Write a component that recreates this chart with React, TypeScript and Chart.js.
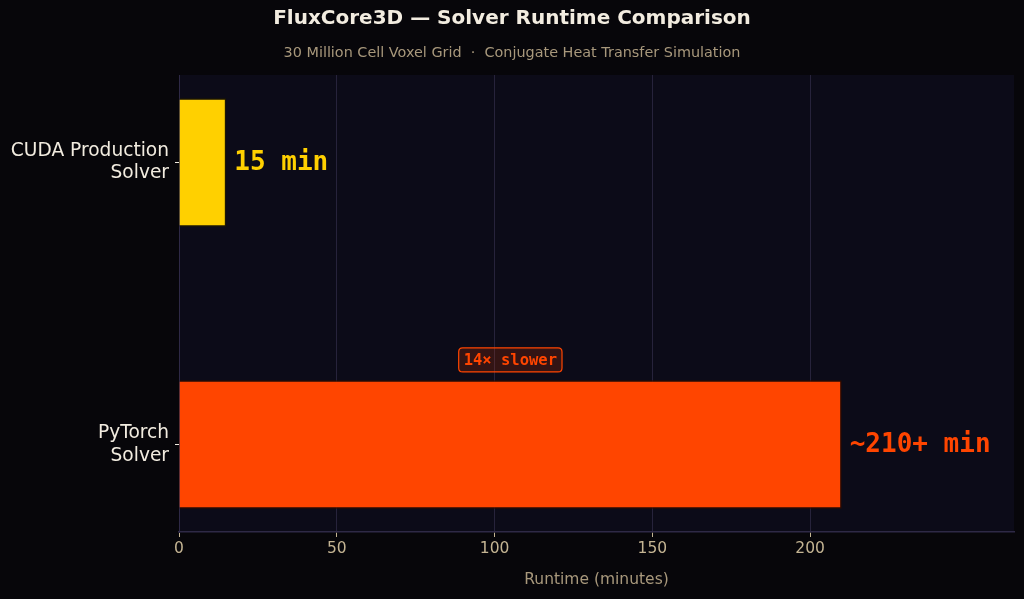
import React, { useEffect, useRef } from "react";
import { Chart, registerables } from "chart.js";

Chart.register(...registerables);

const categories: string[][] = [["CUDA Production", "Solver"], ["PyTorch", "Solver"]];
const runtimes: number[] = [15, 210];
const valueLabels: string[] = ["15 min", "~210+ min"];
const barColors: string[] = ["#FFD000", "#FF4500"];
const xTickValues: number[] = [0, 50, 100, 150, 200];
const xMax = 264.6;
const badgeText = "14× slower";

const TITLE = "FluxCore3D — Solver Runtime Comparison";
const SUBTITLE = "30 Million Cell Voxel Grid  ·  Conjugate Heat Transfer Simulation";
const X_TITLE = "Runtime (minutes)";

const PAGE_BG = "#07060a";
const PLOT_BG = "#0c0b18";
const GRID = "#27233b";
const CREAM = "#f2ece0";
const TAN = "#a8987c";
const TICK_TAN = "#c4b493";

function roundRect(ctx: CanvasRenderingContext2D, x: number, y: number, w: number, h: number, r: number) {
  ctx.beginPath();
  ctx.moveTo(x + r, y);
  ctx.lineTo(x + w - r, y);
  ctx.quadraticCurveTo(x + w, y, x + w, y + r);
  ctx.lineTo(x + w, y + h - r);
  ctx.quadraticCurveTo(x + w, y + h, x + w - r, y + h);
  ctx.lineTo(x + r, y + h);
  ctx.quadraticCurveTo(x, y + h, x, y + h - r);
  ctx.lineTo(x, y + r);
  ctx.quadraticCurveTo(x, y, x + r, y);
  ctx.closePath();
}

const decorPlugin = {
  id: "decor",
  beforeDraw(chart: any) {
    const { ctx, chartArea } = chart;
    ctx.save();
    ctx.fillStyle = PAGE_BG;
    ctx.fillRect(0, 0, chart.width, chart.height);
    ctx.fillStyle = PLOT_BG;
    ctx.fillRect(chartArea.left, chartArea.top, chartArea.right - chartArea.left, chartArea.bottom - chartArea.top);
    ctx.restore();
  },
  afterDraw(chart: any) {
    const { ctx, chartArea } = chart;
    const xs = chart.scales.x;
    const ys = chart.scales.y;
    ctx.save();
    // Titles
    ctx.textAlign = "center";
    ctx.textBaseline = "middle";
    ctx.fillStyle = CREAM;
    ctx.font = "bold 20px 'DejaVu Sans'";
    ctx.fillText(TITLE, chart.width / 2, 19);
    ctx.fillStyle = TAN;
    ctx.font = "14.4px 'DejaVu Sans'";
    ctx.fillText(SUBTITLE, chart.width / 2, 53);
    // X axis title
    ctx.fillStyle = TAN;
    ctx.font = "15.5px 'DejaVu Sans'";
    ctx.fillText(X_TITLE, (chartArea.left + chartArea.right) / 2, 580);

    // Value labels
    ctx.textAlign = "left";
    ctx.font = "bold 26px 'DejaVu Sans Mono'";
    runtimes.forEach((v, i) => {
      ctx.fillStyle = barColors[i];
      ctx.fillText(valueLabels[i], xs.getPixelForValue(v) + 8, ys.getPixelForValue(i) + 1);
    });

    // Badge
    const bx = xs.getPixelForValue(runtimes[1] / 2);
    const by = ys.getPixelForValue(1 - 0.3);
    ctx.font = "bold 15.5px 'DejaVu Sans Mono'";
    const tw = ctx.measureText(badgeText).width;
    const w = tw + 10;
    const h = 24;
    roundRect(ctx, bx - w / 2, by - h / 2, w, h, 4);
    ctx.fillStyle = "rgba(255,69,0,0.16)";
    ctx.fill();
    ctx.lineWidth = 1.2;
    ctx.strokeStyle = "#FF4500";
    ctx.stroke();
    ctx.fillStyle = "#FF4500";
    ctx.textAlign = "center";
    ctx.fillText(badgeText, bx, by + 1);
    ctx.restore();
  },
};

export default function App() {
  const canvasRef = useRef<HTMLCanvasElement | null>(null);

  useEffect(() => {
    document.body.style.margin = "0";
    document.body.style.background = PAGE_BG;
    const canvas = canvasRef.current;
    if (!canvas) return;
    const chart = new Chart(canvas, {
      type: "bar",
      data: {
        datasets: [
          {
            data: runtimes.map((v, i) => ({ x: v, y: i })),
            backgroundColor: barColors,
            borderColor: ["#1e1800", "#2e0c00"],
            borderWidth: 1.5,
            barPercentage: 0.455,
            categoryPercentage: 1,
          } as any,
        ],
      },
      options: {
        indexAxis: "y",
        animation: false,
        responsive: false,
        maintainAspectRatio: false,
        layout: { padding: { top: 75, right: 10, left: 0, bottom: 0 } },
        plugins: {
          legend: { display: false },
          tooltip: { enabled: false },
          title: { display: false },
        },
        scales: {
          x: {
            type: "linear",
            position: "bottom",
            min: 0,
            max: xMax,
            afterBuildTicks: (scale: any) => {
              scale.ticks = xTickValues.map((v) => ({ value: v }));
            },
            afterFit: (scale: any) => {
              scale.height = 67;
            },
            ticks: {
              color: TICK_TAN,
              font: { family: "'DejaVu Sans'", size: 15.5 },
              padding: 3,
            },
            grid: {
              color: GRID,
              lineWidth: 1,
              drawTicks: true,
              tickLength: 5,
              tickColor: TICK_TAN,
            },
            border: { display: true, color: "#2e2946", width: 1.5 },
          },
          y: {
            type: "linear",
            position: "left",
            reverse: true,
            offset: false,
            min: -0.31,
            max: 1.31,
            afterBuildTicks: (scale: any) => {
              scale.ticks = categories.map((_, i) => ({ value: i }));
            },
            afterFit: (scale: any) => {
              scale.width = 179;
            },
            ticks: {
              color: CREAM,
              font: { family: "'DejaVu Sans'", size: 18.6, lineHeight: 1.2 },
              padding: 6,
              callback: (value: any) => categories[Math.round(Number(value))] as any,
            },
            grid: {
              offset: false,
              drawOnChartArea: false,
              drawTicks: true,
              tickLength: 4,
              tickColor: CREAM,
            },
            border: { display: true, color: "#2e2946", width: 1 },
          },
        },
      } as any,
      plugins: [decorPlugin],
    });
    return () => chart.destroy();
  }, []);

  return (
    <div style={{ position: "absolute", left: 0, top: 0, width: 1024, height: 599, background: PAGE_BG }}>
      <canvas ref={canvasRef} width={1024} height={599} style={{ width: 1024, height: 599 }} />
    </div>
  );
}
